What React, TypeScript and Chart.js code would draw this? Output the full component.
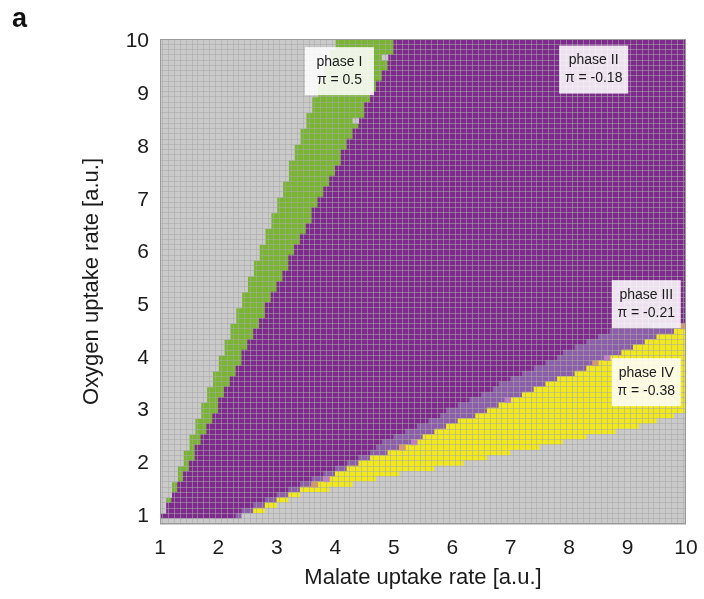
import { useEffect, useRef } from 'react';
import { Chart, registerables } from 'chart.js';

Chart.register(...registerables);

// ---- axes ----
const X_TICKS = [1, 2, 3, 4, 5, 6, 7, 8, 9, 10];
const Y_TICKS = [1, 2, 3, 4, 5, 6, 7, 8, 9, 10];
const COLUMN_COUNT = 90; // malate cells of 0.1 from 1 to 10
const ROW_COUNT = 92; // oxygen cells of 0.1 centred on 0.9 ... 10.0
const COLUMN_X = Array.from({ length: COLUMN_COUNT }, (_, i) => Math.round((1.05 + 0.1 * i) * 100) / 100);
const X_EDGES = Array.from({ length: COLUMN_COUNT + 1 }, (_, i) => Math.round((1 + 0.1 * i) * 100) / 100);
const Y_EDGES = Array.from({ length: ROW_COUNT + 1 }, (_, j) => Math.round((0.85 + 0.1 * j) * 100) / 100);

// ---- phase boundaries per malate column: index of first oxygen row of each phase ----
const YELLOW_START = [
  1, 1, 1, 1, 1, 1, 1, 1, 1, 1, 1, 1, 1, 1, 2, 2, 2, 2, 3, 3,
  4, 4, 5, 5, 6, 6, 6, 6, 6, 7, 7, 7, 7, 8, 8, 8, 8, 9, 9, 9,
  9, 10, 10, 10, 10, 10, 10, 11, 11, 11, 11, 11, 12, 12, 12, 12, 13, 13, 13, 13,
  14, 14, 14, 14, 14, 15, 15, 15, 15, 16, 16, 16, 16, 17, 17, 17, 17, 17, 18, 18,
  18, 18, 19, 19, 19, 20, 20, 20, 21, 21,
];
const LILAC_START = [
  1, 1, 1, 1, 1, 1, 1, 1, 1, 1, 1, 1, 1, 1, 2, 2, 3, 3, 4, 4,
  5, 5, 6, 6, 7, 7, 8, 8, 9, 9, 10, 10, 11, 11, 12, 12, 13, 13, 13, 14,
  14, 15, 15, 16, 16, 17, 17, 18, 18, 19, 19, 20, 20, 20, 21, 21, 22, 22, 23, 23,
  24, 24, 25, 25, 26, 26, 27, 27, 28, 28, 28, 29, 29, 30, 30, 31, 31, 32, 32, 33,
  33, 34, 34, 35, 35, 36, 36, 36, 37, 37,
];
const PURPLE_START = [
  1, 1, 1, 1, 1, 1, 1, 1, 1, 1, 1, 1, 1, 2, 3, 3, 4, 4, 5, 5,
  6, 6, 7, 7, 8, 8, 9, 9, 10, 10, 11, 11, 12, 12, 13, 13, 14, 15, 16, 16,
  17, 17, 18, 18, 19, 19, 20, 20, 21, 22, 22, 23, 23, 24, 24, 25, 25, 26, 27, 27,
  28, 28, 29, 29, 30, 30, 31, 31, 32, 33, 33, 34, 34, 35, 35, 36, 36, 37, 37, 37,
  37, 37, 37, 37, 38, 38, 38, 38, 38, 38,
];
const GREEN_START = [
  2, 4, 6, 8, 10, 12, 15, 17, 19, 21, 24, 26, 28, 30, 33, 35, 37, 39, 42, 44,
  46, 48, 51, 53, 55, 57, 60, 62, 64, 66, 68, 71, 73, 75, 77, 80, 82, 84, 86, 89,
  92, 92, 92, 92, 92, 92, 92, 92, 92, 92, 92, 92, 92, 92, 92, 92, 92, 92, 92, 92,
  92, 92, 92, 92, 92, 92, 92, 92, 92, 92, 92, 92, 92, 92, 92, 92, 92, 92, 92, 92,
  92, 92, 92, 92, 92, 92, 92, 92, 92, 92,
];
const TOP_GRAY_START = [
  2, 5, 8, 11, 14, 17, 20, 23, 26, 29, 32, 35, 38, 41, 44, 47, 50, 53, 56, 59,
  62, 65, 69, 72, 75, 78, 81, 84, 87, 90, 92, 92, 92, 92, 92, 92, 92, 92, 92, 92,
  92, 92, 92, 92, 92, 92, 92, 92, 92, 92, 92, 92, 92, 92, 92, 92, 92, 92, 92, 92,
  92, 92, 92, 92, 92, 92, 92, 92, 92, 92, 92, 92, 92, 92, 92, 92, 92, 92, 92, 92,
  92, 92, 92, 92, 92, 92, 92, 92, 92, 92,
];
// isolated cells [column, row]
const GAP_CELLS = [[33, 76], [38, 88]];
const ORANGE_CELLS = [[26, 7], [41, 14], [74, 30], [89, 37]];
const PINK_CELLS = [[28, 8], [43, 15], [59, 23], [76, 31]];

const PHASE_LABELS = [
  { title: 'phase I', value: 'π = 0.5', x: 4.07, y: 9.44 },
  { title: 'phase II', value: 'π = -0.18', x: 8.42, y: 9.47 },
  { title: 'phase III', value: 'π = -0.21', x: 9.32, y: 5.02 },
  { title: 'phase IV', value: 'π = -0.38', x: 9.32, y: 3.54 },
];

const COLORS = {
  gray: '#cacaca',
  yellow: '#f2e91c',
  lilac: '#8c5ea9',
  purple: '#7e2a8c',
  green: '#7ab532',
  orange: '#d8966d',
  pink: '#c27bc6',
  grid: 'rgba(168,168,168,0.55)',
};
const FONT = '"Liberation Sans", Arial, sans-serif';
const TEXT = '#1a1a1a';

function cell(c: number, a: number, b: number) {
  return { x: COLUMN_X[c], y: [Y_EDGES[a], Y_EDGES[b]] };
}

function buildDatasets() {
  const gray: any[] = [], yellow: any[] = [], lilac: any[] = [], purple: any[] = [], green: any[] = [];
  for (let c = 0; c < COLUMN_COUNT; c++) {
    gray.push(cell(c, 0, YELLOW_START[c]));
    if (LILAC_START[c] > YELLOW_START[c]) yellow.push(cell(c, YELLOW_START[c], LILAC_START[c]));
    if (PURPLE_START[c] > LILAC_START[c]) lilac.push(cell(c, LILAC_START[c], PURPLE_START[c]));
    if (GREEN_START[c] > PURPLE_START[c]) purple.push(cell(c, PURPLE_START[c], GREEN_START[c]));
    if (TOP_GRAY_START[c] > GREEN_START[c]) green.push(cell(c, GREEN_START[c], TOP_GRAY_START[c]));
    if (ROW_COUNT > TOP_GRAY_START[c]) gray.push(cell(c, TOP_GRAY_START[c], ROW_COUNT));
  }
  const odd = (list: number[][]) => list.map(([c, r]) => cell(c, r, r + 1));
  const base = {
    type: 'bar',
    xAxisID: 'x',
    yAxisID: 'y',
    borderWidth: 0,
    barPercentage: 1,
    categoryPercentage: 1,
    grouped: false,
  };
  return [
    { ...base, label: 'gap', data: odd(GAP_CELLS), backgroundColor: COLORS.gray, order: 0 },
    { ...base, label: 'orange', data: odd(ORANGE_CELLS), backgroundColor: COLORS.orange, order: 0 },
    { ...base, label: 'pink', data: odd(PINK_CELLS), backgroundColor: COLORS.pink, order: 0 },
    { ...base, label: 'infeasible', data: gray, backgroundColor: COLORS.gray, order: 1 },
    { ...base, label: 'phase IV', data: yellow, backgroundColor: COLORS.yellow, order: 1 },
    { ...base, label: 'phase III', data: lilac, backgroundColor: COLORS.lilac, order: 1 },
    { ...base, label: 'phase II', data: purple, backgroundColor: COLORS.purple, order: 1 },
    { ...base, label: 'phase I', data: green, backgroundColor: COLORS.green, order: 1 },
  ];
}

const overlayPlugin = {
  id: 'overlay',
  afterDraw(chart: any) {
    const { ctx, chartArea: a, scales } = chart;
    ctx.save();
    ctx.strokeStyle = '#9a9a9a';
    ctx.lineWidth = 1;
    ctx.strokeRect(Math.round(a.left) + 0.5, Math.round(a.top) + 0.5, Math.round(a.right - a.left) - 1, Math.round(a.bottom - a.top) - 1);

    ctx.font = `14px ${FONT}`;
    ctx.textAlign = 'center';
    ctx.textBaseline = 'middle';
    for (const l of PHASE_LABELS) {
      const cx = scales.x.getPixelForValue(l.x);
      const cy = scales.y.getPixelForValue(l.y);
      ctx.fillStyle = 'rgba(255,255,255,0.86)';
      ctx.fillRect(cx - 34.5, cy - 24, 69, 48);
      ctx.fillStyle = TEXT;
      ctx.fillText(l.title, cx, cy - 9);
      ctx.fillText(l.value, cx, cy + 9);
    }

    ctx.font = `bold 27px ${FONT}`;
    ctx.textAlign = 'left';
    ctx.textBaseline = 'alphabetic';
    ctx.fillStyle = '#111';
    ctx.fillText('a', 12, 27);
    ctx.restore();
  },
};

export default function App() {
  const ref = useRef<HTMLCanvasElement | null>(null);
  useEffect(() => {
    if (!ref.current) return;
    const chart = new Chart(ref.current, {
      type: 'bar',
      data: { datasets: buildDatasets() as any },
      options: {
        animation: false,
        responsive: false,
        devicePixelRatio: 1,
        layout: { padding: { top: 39, right: 18, left: 0, bottom: 0 } },
        plugins: {
          legend: { display: false },
          tooltip: { enabled: false },
          title: { display: false },
        },
        scales: {
          x: {
            type: 'linear',
            position: 'bottom',
            min: 1,
            max: 10,
            offset: false,
            grid: { display: false, drawTicks: false, offset: false },
            border: { display: false },
            afterBuildTicks: (s: any) => { s.ticks = X_TICKS.map((v) => ({ value: v })); },
            afterFit: (s: any) => { s.height = 75; s.paddingLeft = 0; s.paddingRight = 0; },
            ticks: {
              autoSkip: false,
              maxRotation: 0,
              padding: 12,
              color: TEXT,
              font: { family: FONT, size: 21 },
              callback: (v: any) => String(v),
            },
            title: {
              display: true,
              text: 'Malate uptake rate [a.u.]',
              color: TEXT,
              font: { family: FONT, size: 22 },
              padding: { top: 0, bottom: 8 },
            },
          },
          y: {
            type: 'linear',
            position: 'left',
            min: 0.85,
            max: 10.05,
            beginAtZero: false,
            grid: { display: false, drawTicks: false },
            border: { display: false },
            afterBuildTicks: (s: any) => { s.ticks = Y_TICKS.map((v) => ({ value: v })); },
            afterFit: (s: any) => { s.width = 160; s.paddingTop = 0; s.paddingBottom = 0; },
            ticks: {
              autoSkip: false,
              padding: 11,
              color: TEXT,
              font: { family: FONT, size: 21 },
              callback: (v: any) => String(v),
            },
            title: {
              display: true,
              text: 'Oxygen uptake rate [a.u.]',
              color: TEXT,
              font: { family: FONT, size: 22 },
              padding: { top: 79, bottom: 0 },
            },
          },
          xg: {
            type: 'linear',
            axis: 'x',
            position: 'bottom',
            min: 1,
            max: 10,
            offset: false,
            afterBuildTicks: (s: any) => { s.ticks = X_EDGES.map((v) => ({ value: v })); },
            afterFit: (s: any) => { s.height = 0; s.paddingLeft = 0; s.paddingRight = 0; },
            ticks: { display: false },
            border: { display: false },
            grid: { color: COLORS.grid, lineWidth: 1, drawTicks: false, z: 1 },
          },
          yg: {
            type: 'linear',
            axis: 'y',
            position: 'left',
            min: 0.85,
            max: 10.05,
            afterBuildTicks: (s: any) => { s.ticks = Y_EDGES.map((v) => ({ value: v })); },
            afterFit: (s: any) => { s.width = 0; s.paddingTop = 0; s.paddingBottom = 0; },
            ticks: { display: false },
            border: { display: false },
            grid: { color: COLORS.grid, lineWidth: 1, drawTicks: false, z: 1 },
          },
        } as any,
      },
      plugins: [overlayPlugin as any],
    });
    return () => chart.destroy();
  }, []);

  return (
    <div style={{ position: 'absolute', left: 0, top: 0, width: 704, height: 599, background: '#fff' }}>
      <canvas ref={ref} width={704} height={599} style={{ display: 'block' }} />
    </div>
  );
}
